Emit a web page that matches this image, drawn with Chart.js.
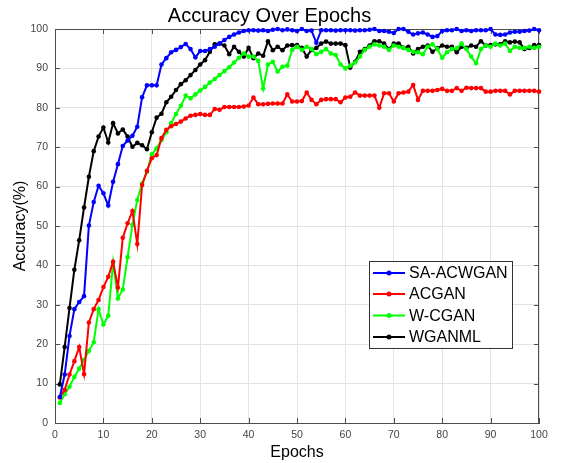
<!DOCTYPE html>
<html>
<head>
<meta charset="utf-8">
<script src="https://cdn.jsdelivr.net/npm/chart.js@4.4.1/dist/chart.umd.min.js"></script>
<style>
html,body{margin:0;padding:0;background:#fff;}
#wrap{width:561px;height:463px;position:relative;}
</style>
</head>
<body>
<div id="wrap"><canvas id="c" width="561" height="463"></canvas></div>
<script>
const epochs = [
  1,2,3,4,5,6,7,8,9,10,
  11,12,13,14,15,16,17,18,19,20,
  21,22,23,24,25,26,27,28,29,30,
  31,32,33,34,35,36,37,38,39,40,
  41,42,43,44,45,46,47,48,49,50,
  51,52,53,54,55,56,57,58,59,60,
  61,62,63,64,65,66,67,68,69,70,
  71,72,73,74,75,76,77,78,79,80,
  81,82,83,84,85,86,87,88,89,90,
  91,92,93,94,95,96,97,98,99,100
];
const xTicks = [0,10,20,30,40,50,60,70,80,90,100];
const yTicks = [0,10,20,30,40,50,60,70,80,90,100];

const saAcwgan = [
  6.6,12.3,22.1,28.9,30.7,32.2,50.1,56.1,60.2,58.3,
  55.2,61.2,65.7,70.3,71.7,72.9,75.2,82.7,85.7,85.7,
  85.7,91.0,92.6,94.1,94.7,95.4,96.2,94.9,92.8,94.4,
  94.4,94.9,95.5,96.3,97.2,98.0,98.6,99.1,99.5,99.7,
  99.7,99.6,99.7,99.5,99.8,100.0,99.7,99.9,99.7,99.5,
  100.0,99.5,99.6,96.5,99.7,99.7,99.7,99.6,99.7,99.7,
  99.7,99.6,99.7,99.7,99.8,100.0,99.5,99.5,99.3,99.0,
  100.0,100.0,99.3,98.6,98.9,99.1,98.6,98.0,98.2,99.5,
  99.7,99.7,100.0,99.5,99.7,99.5,99.7,99.7,99.7,100.0,
  98.6,98.5,98.6,99.1,99.3,99.3,99.5,99.6,100.0,99.7
];
const acgan = [
  6.5,8.4,12.3,15.7,19.3,12.4,25.5,28.9,31.2,34.5,
  37.1,40.9,34.4,47.0,50.7,53.8,45.4,60.4,64.0,67.2,
  68.0,72.3,74.4,75.3,75.9,76.5,77.3,78.0,78.2,78.4,
  78.2,78.2,79.7,79.5,80.2,80.2,80.2,80.2,80.3,80.6,
  82.6,80.9,80.9,81.0,81.1,81.1,81.1,83.4,81.6,81.6,
  81.7,83.9,82.0,80.9,82.0,82.2,82.2,82.2,81.4,82.6,
  82.8,83.9,83.1,83.1,83.1,83.1,80.0,83.7,83.7,81.6,
  83.7,83.9,84.1,85.8,82.0,84.3,84.3,84.3,84.5,84.8,
  84.3,84.3,85.0,84.3,85.1,85.0,85.0,85.0,84.1,84.1,
  84.3,84.3,84.3,83.4,84.3,84.3,84.3,84.3,84.3,84.1
];
const wCgan = [
  5.1,7.3,9.2,11.7,13.8,16.0,18.3,20.5,28.9,25.0,
  27.2,40.7,31.6,33.9,42.1,50.3,56.6,60.8,63.8,68.2,
  69.7,71.8,73.8,76.1,78.4,80.5,83.1,82.4,83.4,84.4,
  85.3,86.4,87.3,88.3,89.3,90.3,91.5,92.7,93.8,93.0,
  93.0,91.9,84.9,91.0,91.7,89.2,90.4,90.7,94.7,95.5,
  94.7,95.5,94.9,93.6,94.2,94.9,93.8,93.4,91.0,90.0,
  90.7,91.5,93.0,94.7,95.5,96.1,95.8,95.5,94.7,95.8,
  95.5,95.2,94.7,94.2,94.1,93.6,95.5,96.1,94.9,92.7,
  94.1,94.9,95.1,96.3,94.9,93.0,91.3,94.9,95.8,95.5,
  96.3,95.8,96.3,94.4,95.5,95.2,95.2,95.5,95.2,95.5
];
const wganml = [
  9.8,19.3,29.2,38.9,46.4,54.7,62.5,69.0,72.7,75.0,
  71.2,76.1,73.5,74.5,72.7,70.1,71.1,70.5,69.5,73.8,
  77.5,78.5,81.4,82.8,84.5,86.0,87.0,88.3,89.6,91.0,
  92.1,94.2,96.1,96.3,95.8,93.6,95.5,94.2,93.0,95.2,
  92.6,93.8,93.2,96.9,94.6,95.5,94.6,95.8,95.9,95.9,
  95.2,93.0,94.7,95.2,96.3,96.8,96.3,96.3,96.3,95.9,
  90.2,91.7,94.2,94.9,95.8,96.9,96.9,96.3,94.9,96.3,
  96.3,95.2,95.5,93.8,94.9,95.5,95.8,94.2,95.1,95.8,
  95.5,95.5,94.1,95.5,95.2,95.8,95.5,96.9,95.8,95.9,
  96.1,96.1,96.9,96.6,96.8,96.6,94.9,95.2,95.9,95.9
];

const seriesNames = ['SA-ACWGAN','ACGAN','W-CGAN','WGANML'];
const seriesColors = ['#0000ff','#ff0000','#00ff00','#000000'];
const seriesValues = [saAcwgan, acgan, wCgan, wganml];

const FONT = "'Liberation Sans', Arial, Helvetica, sans-serif";
const AXIS_COLOR = '#4d4d4d';
const TICK_COLOR = '#444444';

const toPoints = vals => vals.map((v, i) => ({x: epochs[i], y: v}));

const datasets = seriesNames.map((name, k) => ({
  label: name,
  data: toPoints(seriesValues[k]),
  borderColor: seriesColors[k],
  backgroundColor: seriesColors[k],
  pointBackgroundColor: seriesColors[k],
  pointBorderColor: seriesColors[k],
  borderWidth: 2,
  pointRadius: 2.3,
  pointBorderWidth: 0,
  tension: 0,
  clip: false
}));

const framePlugin = {
  id: 'frame',
  beforeDatasetsDraw(chart) {
    const {ctx, chartArea: a, scales: {x, y}} = chart;
    ctx.save();
    ctx.strokeStyle = AXIS_COLOR;
    ctx.lineWidth = 1;
    ctx.beginPath();
    ctx.moveTo(a.left, a.top + 0.5); ctx.lineTo(a.right, a.top + 0.5);
    ctx.moveTo(a.right - 0.5, a.top); ctx.lineTo(a.right - 0.5, a.bottom);
    const L = 5;
    xTicks.forEach(t => {
      const px = Math.round(x.getPixelForValue(t)) + 0.5;
      ctx.moveTo(px, a.bottom); ctx.lineTo(px, a.bottom - L);
      ctx.moveTo(px, a.top); ctx.lineTo(px, a.top + L);
    });
    yTicks.forEach(t => {
      const py = Math.round(y.getPixelForValue(t)) + 0.5;
      ctx.moveTo(a.left, py); ctx.lineTo(a.left + L, py);
      ctx.moveTo(a.right, py); ctx.lineTo(a.right - L, py);
    });
    ctx.stroke();
    ctx.restore();
  }
};

const legendPlugin = {
  id: 'boxLegend',
  afterDraw(chart) {
    const {ctx} = chart;
    const bx = 369.5, by = 261.5, bw = 143, bh = 87;
    ctx.save();
    ctx.fillStyle = '#ffffff';
    ctx.fillRect(bx, by, bw, bh);
    ctx.strokeStyle = '#333333';
    ctx.lineWidth = 1;
    ctx.strokeRect(bx, by, bw, bh);
    const rows = [273, 294, 315.5, 337];
    ctx.font = "16px " + FONT;
    ctx.textBaseline = 'middle';
    ctx.textAlign = 'left';
    chart.data.datasets.forEach((ds, i) => {
      const yy = rows[i];
      ctx.strokeStyle = ds.borderColor;
      ctx.lineWidth = 2;
      ctx.beginPath();
      ctx.moveTo(373, yy); ctx.lineTo(405, yy);
      ctx.stroke();
      ctx.fillStyle = ds.borderColor;
      ctx.beginPath();
      ctx.arc(389, yy, 2.5, 0, Math.PI * 2);
      ctx.fill();
      ctx.fillStyle = '#000000';
      ctx.fillText(ds.label, 409, yy + 1);
    });
    ctx.restore();
  }
};

new Chart(document.getElementById('c'), {
  type: 'line',
  data: { datasets },
  plugins: [framePlugin, legendPlugin],
  options: {
    responsive: false,
    animation: false,
    devicePixelRatio: 1,
    layout: { padding: { left: 0, right: 22, top: 0, bottom: 0 } },
    plugins: {
      legend: { display: false },
      tooltip: { enabled: false },
      title: {
        display: true,
        text: 'Accuracy Over Epochs',
        color: '#000000',
        font: { family: FONT, size: 20, weight: 'normal', lineHeight: 1.2 },
        padding: { top: 4, bottom: 1 }
      }
    },
    scales: {
      x: {
        type: 'linear',
        min: 0, max: 100,
        afterBuildTicks: s => { s.ticks = xTicks.map(v => ({value: v})); },
        afterFit: s => { s.height = 40; },
        ticks: {
          color: TICK_COLOR,
          font: { family: FONT, size: 10.5 },
          padding: 6,
          maxRotation: 0,
          autoSkip: false
        },
        grid: { color: '#e3e3e3', lineWidth: 1, drawTicks: false },
        border: { color: AXIS_COLOR, width: 1 },
        title: {
          display: true,
          text: 'Epochs',
          color: '#000000',
          font: { family: FONT, size: 16, weight: 'normal', lineHeight: 1.2 },
          padding: { top: 0, bottom: 1 }
        }
      },
      y: {
        type: 'linear',
        min: 0, max: 100,
        afterBuildTicks: s => { s.ticks = yTicks.map(v => ({value: v})); },
        afterFit: s => { s.width = 55; },
        ticks: {
          color: TICK_COLOR,
          font: { family: FONT, size: 10.5 },
          padding: 7,
          autoSkip: false
        },
        grid: { color: '#e3e3e3', lineWidth: 1, drawTicks: false },
        border: { color: AXIS_COLOR, width: 1 },
        title: {
          display: true,
          text: 'Accuracy(%)',
          color: '#000000',
          font: { family: FONT, size: 16, weight: 'normal', lineHeight: 1.2 },
          padding: { top: 11, bottom: 0 }
        }
      }
    }
  }
});
</script>
</body>
</html>
